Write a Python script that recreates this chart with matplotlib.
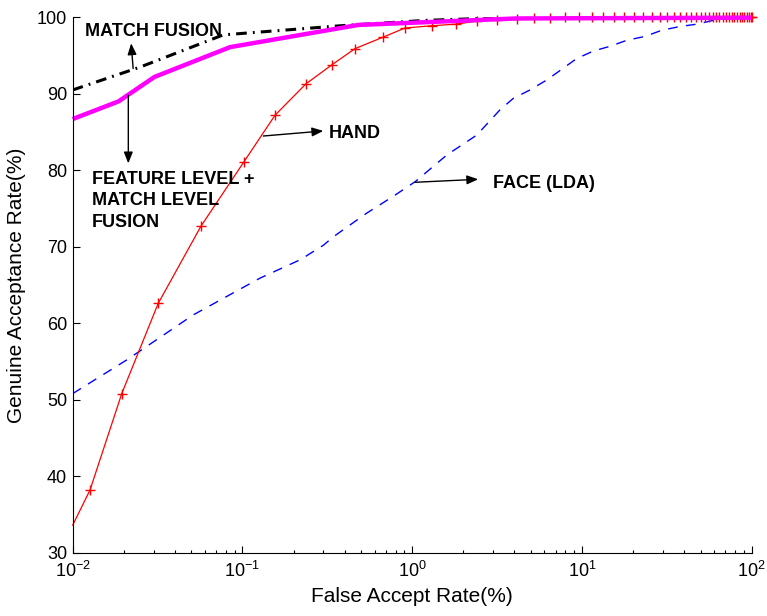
import matplotlib
matplotlib.use("Agg")
from matplotlib import pyplot as plt

plt.rcParams["font.family"] = ["Liberation Sans", "DejaVu Sans"]
plt.rcParams["mathtext.fontset"] = "custom"
plt.rcParams["mathtext.rm"] = "Liberation Sans"
plt.rcParams["mathtext.it"] = "Liberation Sans"

# FACE (LDA) curve
face_far = [0.01, 0.0208, 0.0514, 0.127, 0.219, 0.30, 0.343, 0.54, 0.774, 1.04,
            1.6, 2.4, 3.29, 3.94, 4.94, 6.2, 7.6, 9.3, 11.7, 14.6, 18.4, 23.5,
            29.5, 37.8, 47.4, 59.4, 75.0, 100.0]
face_gar = [50.8, 55.2, 61.1, 65.9, 68.3, 70.2, 71.3, 74.4, 76.6, 78.5,
            82.0, 84.6, 87.9, 89.4, 90.5, 91.8, 93.2, 94.6, 95.6, 96.2, 97.0, 97.5,
            98.3, 98.8, 99.1, 99.6, 100.0, 100.0]

# HAND curve
hand_far = [0.01, 0.01265, 0.01945, 0.0319, 0.057, 0.102, 0.1556, 0.2366, 0.337, 0.460,
            0.673, 0.906, 1.31, 1.80, 2.40, 3.17, 4.13, 5.22, 6.49, 7.95,
            9.55, 11.4, 13.4, 15.5, 17.7, 20.3, 23.0, 25.7, 28.8, 31.8,
            34.8, 37.8, 41.0, 43.9, 47.0, 50.1, 53.1, 56.1, 58.9, 61.6,
            64.5, 67.4, 70.3, 73.2, 76.1, 79.0, 81.9, 84.8, 87.7, 90.6,
            93.5, 96.4, 99.3, 100.0]
hand_gar = [33.6, 38.2, 50.8, 62.6, 72.7, 81.1, 87.2, 91.3, 93.8, 95.9,
            97.4, 98.6, 98.9, 99.1, 99.5, 99.65, 99.8, 99.9, 99.95, 100.0,
            100.0, 100.0, 100.0, 100.0, 100.0, 100.0, 100.0, 100.0, 100.0, 100.0,
            100.0, 100.0, 100.0, 100.0, 100.0, 100.0, 100.0, 100.0, 100.0, 100.0,
            100.0, 100.0, 100.0, 100.0, 100.0, 100.0, 100.0, 100.0, 100.0, 100.0,
            100.0, 100.0, 100.0, 100.0]

# MATCH FUSION curve
match_far = [0.01, 0.025, 0.077, 0.38, 1.2, 2.2, 100.0]
match_gar = [90.5, 93.5, 97.7, 98.9, 99.6, 99.8, 100.0]

# FEATURE LEVEL + MATCH LEVEL FUSION curve
feat_far = [0.01, 0.0186, 0.0303, 0.0845, 0.48, 4.1, 100.0]
feat_gar = [86.7, 89.0, 92.2, 96.1, 99.0, 99.85, 99.95]

fig = plt.figure(figsize=(7.67, 6.16), dpi=100)
ax = fig.add_axes([0.0948, 0.1028, 0.8852, 0.8691])

ax.plot(face_far, face_gar, color="blue", lw=1.0, linestyle=(0, (7, 6)))
ax.plot(hand_far, hand_gar, color="red", lw=0.9, marker="+", markersize=7,
        markeredgewidth=1.0, markevery=slice(1, None), clip_on=False)
ax.plot(match_far, match_gar, color="black", lw=2.2, linestyle=(0, (3.5, 2, 0.6, 2)))
ax.plot(feat_far, feat_gar, color="#FF00FF", lw=3.2, clip_on=False,
        solid_capstyle="butt")

ax.set_xscale("log")
ax.set_xlim(0.01, 100)
ax.set_ylim(30, 100)
ax.set_yticks(range(30, 101, 10))

for side in ["top", "right"]:
    ax.spines[side].set_visible(False)
for side in ["left", "bottom"]:
    ax.spines[side].set_linewidth(0.8)

ax.tick_params(which="major", direction="in", length=5, width=0.8, labelsize=13, pad=4)
ax.tick_params(which="minor", direction="in", length=2.5, width=0.8)
ax.tick_params(axis="x", which="major", pad=6)
ax.tick_params(axis="y", which="minor", left=False)

ax.set_xlabel("False Accept Rate(%)", fontsize=15, labelpad=4)
ax.set_ylabel("Genuine Acceptance Rate(%)", fontsize=15, labelpad=8)

arrow = dict(arrowstyle="-|>,head_length=0.45,head_width=0.18", color="black",
             lw=1.0, mutation_scale=15, shrinkA=0, shrinkB=0)
bold = dict(fontsize=13, fontweight="bold", va="baseline", ha="left")

ax.text(0.01182, 97.56, "MATCH FUSION", **bold)
ax.annotate("", xy=(0.0221, 96.6), xytext=(0.0227, 93.3), arrowprops=arrow)

ax.text(0.01294, 72.63, "FEATURE LEVEL +\nMATCH LEVEL\nFUSION", linespacing=1.33, **bold)
ax.annotate("", xy=(0.02126, 80.9), xytext=(0.02126, 89.8), arrowprops=arrow)

ax.text(0.3208, 84.18, "HAND", **bold)
ax.annotate("", xy=(0.2995, 85.14), xytext=(0.1327, 84.48), arrowprops=arrow)

ax.text(2.98, 77.65, "FACE (LDA)", **bold)
ax.annotate("", xy=(2.449, 78.82), xytext=(1.039, 78.43), arrowprops=arrow)

fig.savefig("out.png", dpi=100)
